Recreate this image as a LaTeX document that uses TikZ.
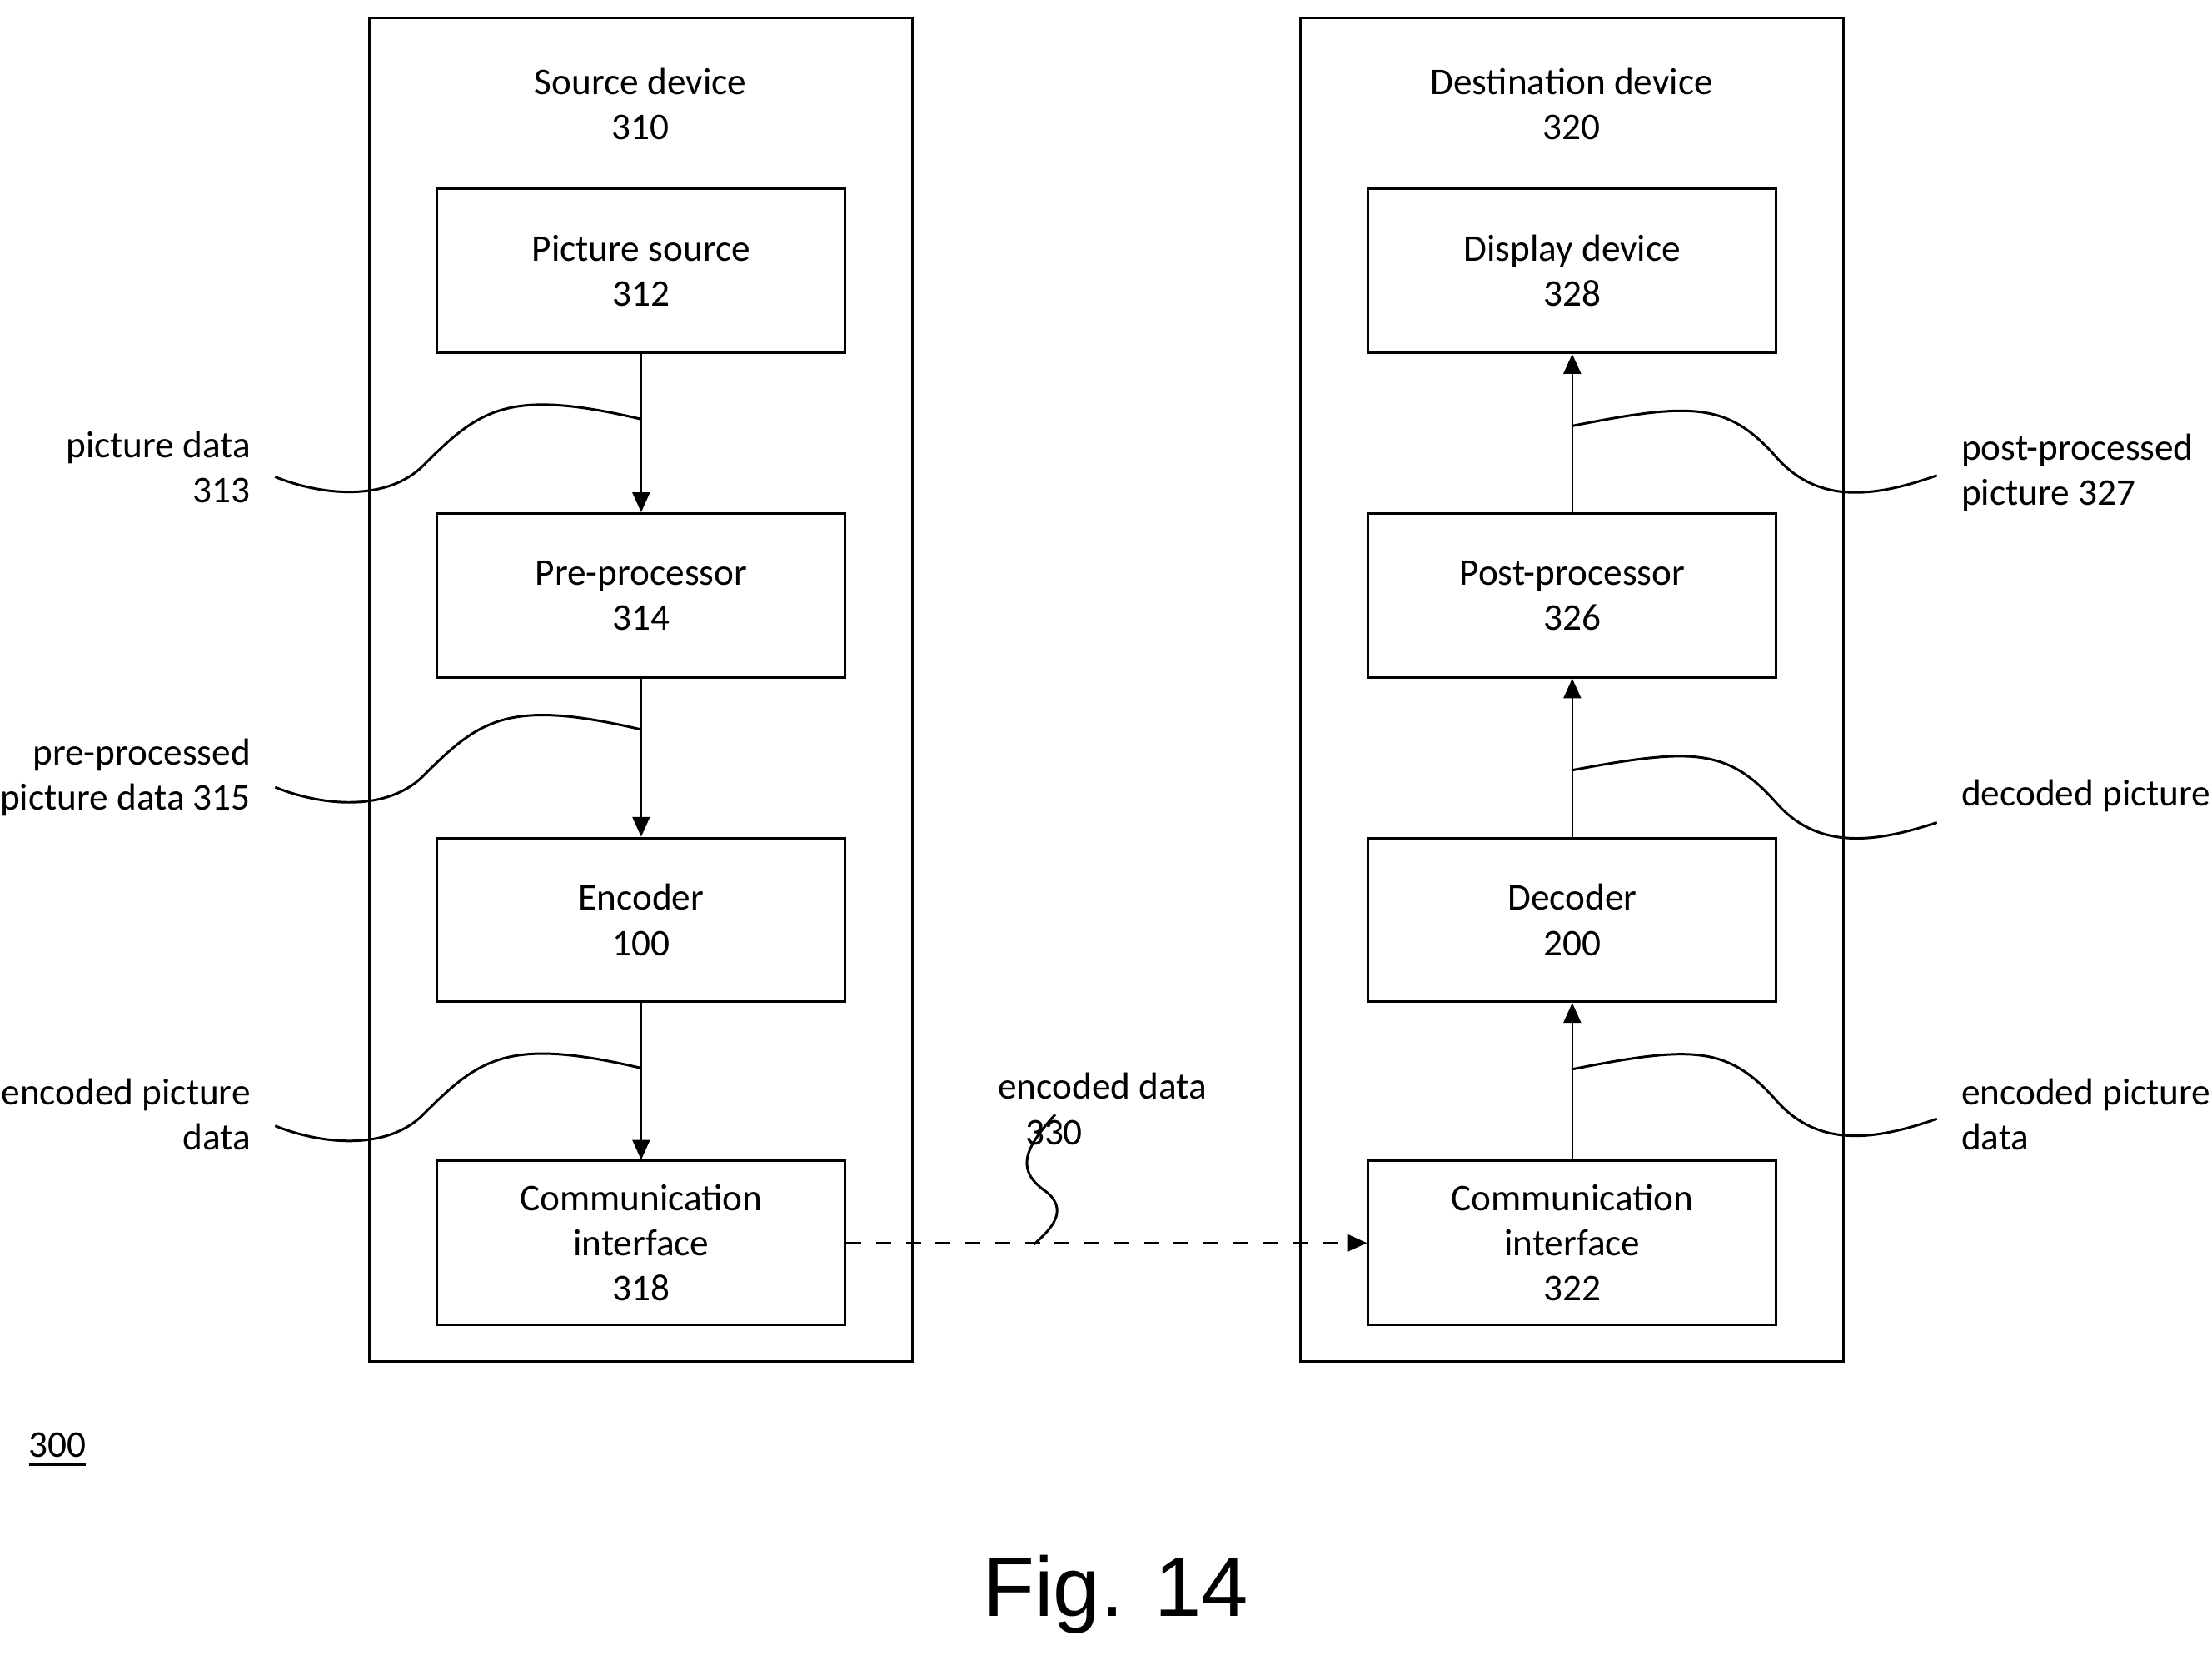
\documentclass[tikz,border=0pt]{standalone}
\usepackage{fontspec}
\setmainfont{Carlito}
\newfontfamily\figfont{Liberation Sans}
\usetikzlibrary{arrows.meta}
\begin{document}
\begin{tikzpicture}[x=0.01cm,y=-0.01cm,
  outer/.style={draw,line width=0.5pt},
  blk/.style={draw,line width=0.5pt,minimum width=2.89cm,minimum height=1.16cm,align=center,font=\fontsize{7.6}{9.1}\selectfont},
  lbl/.style={font=\fontsize{7.6}{9.1}\selectfont},
  arr/.style={line width=0.4pt,-{Triangle[length=4pt,width=3.5pt]}},
  lead/.style={line width=0.5pt}]
\useasboundingbox (0,0) rectangle (1568,1180);
\draw[outer] (262,13) rectangle (647,965);
\draw[outer] (922,13) rectangle (1307,965);
\node[lbl,align=center] (st) at (454,74) {Source device\\310};
\node[lbl,align=center] (dt) at (1114,74) {Destination device\\320};
\node[blk] (ps) at (454.5,192) {Picture source\\312};
\node[blk] (pp) at (454.5,422) {Pre-processor\\314};
\node[blk] (en) at (454.5,652) {Encoder\\100};
\node[blk] (ci) at (454.5,881) {Communication\\interface\\318};
\node[blk] (dd) at (1114.5,192) {Display device\\328};
\node[blk] (po) at (1114.5,422) {Post-processor\\326};
\node[blk] (de) at (1114.5,652) {Decoder\\200};
\node[blk] (ri) at (1114.5,881) {Communication\\interface\\322};
\draw[arr] (ps) -- (pp);
\draw[arr] (pp) -- (en);
\draw[arr] (en) -- (ci);
\draw[arr] (ri) -- (de);
\draw[arr] (de) -- (po);
\draw[arr] (po) -- (dd);
\draw[arr,dashed] (ci) -- (ri);
% leaders left
\coordinate (l1) at (454,297); \coordinate (l1e) at (195,338);
\draw[lead] (l1) .. controls (360,275) and (340,290) .. (300,330) .. controls (275,355) and (230,352) .. (l1e);
\node[lbl,align=right,anchor=east] (t1) at (190,331) {picture data\\313};
\coordinate (l2) at (454,517); \coordinate (l2e) at (195,558);
\draw[lead] (l2) .. controls (360,495) and (340,510) .. (300,550) .. controls (275,575) and (230,572) .. (l2e);
\node[lbl,align=right,anchor=east] (t2) at (190,551) {pre-processed\\picture data 315};
\coordinate (l3) at (454,757); \coordinate (l3e) at (195,798);
\draw[lead] (l3) .. controls (360,735) and (340,750) .. (300,790) .. controls (275,815) and (230,812) .. (l3e);
\node[lbl,align=right,anchor=east] (t3) at (190,790) {encoded picture\\data};
% leaders right
\coordinate (r1) at (1114,302); \coordinate (r1e) at (1373,337);
\draw[lead] (r1) .. controls (1200,285) and (1225,285) .. (1260,325) .. controls (1290,358) and (1330,352) .. (r1e);
\node[lbl,align=left,anchor=west] (u1) at (1378,335) {post-processed\\picture 327};
\coordinate (r2) at (1114,546); \coordinate (r2e) at (1373,583);
\draw[lead] (r2) .. controls (1200,530) and (1225,530) .. (1260,570) .. controls (1290,603) and (1330,597) .. (r2e);
\node[lbl,anchor=west] (u2) at (1378,564) {decoded picture};
\coordinate (r3) at (1114,758); \coordinate (r3e) at (1373,793);
\draw[lead] (r3) .. controls (1200,741) and (1225,741) .. (1260,781) .. controls (1290,814) and (1330,808) .. (r3e);
\node[lbl,align=left,anchor=west] (u3) at (1378,790) {encoded picture\\data};
% encoded data 330
\coordinate (e1) at (748,790); \coordinate (e2) at (733,882);
\draw[lead] (e1) .. controls (725,815) and (720,830) .. (742,845) .. controls (760,860) and (740,875) .. (e2);
\node[lbl,align=left,anchor=west] (ed) at (695,786) {encoded data\\\hspace*{5.5pt}330};
\node[lbl,anchor=west] (n300) at (8,1028) {\underline{300}};
\node[font=\figfont\fontsize{17}{20}\selectfont] (fig) at (791,1130) {Fig. 14};
\end{tikzpicture}
\end{document}
